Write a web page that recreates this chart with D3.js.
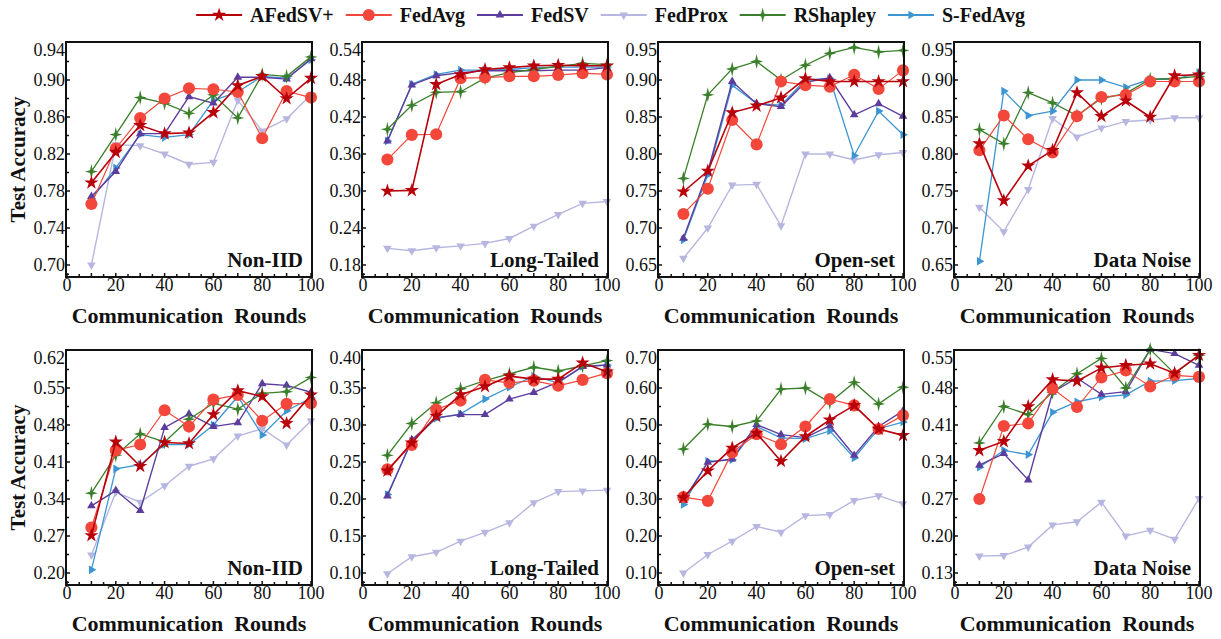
<!DOCTYPE html>
<html>
<head>
<meta charset="utf-8">
<script src="https://cdn.jsdelivr.net/npm/d3@7"></script>
<style>
  body { margin: 0; background: #fff; }
  svg text { font-family: 'Liberation Serif', 'Times New Roman', serif; fill: #111; }
  .tick-label { font-size: 18px; }
  .bold { font-weight: bold; }
</style>
</head>
<body>
<svg id="chart" width="1221" height="639"></svg>
<script>
// ---- data ----
var rounds = [10, 20, 30, 40, 50, 60, 70, 80, 90, 100]
var methods = ['AFedSV+', 'FedAvg', 'FedSV', 'FedProx', 'RShapley', 'S-FedAvg']
var xTicks = [0, 20, 40, 60, 80, 100]
var settings = ['Non-IID', 'Long-Tailed', 'Open-set', 'Data Noise']

// y tick labels, one list per panel
var ticksTop1 = [0.70, 0.74, 0.78, 0.82, 0.86, 0.90, 0.94]
var ticksTop2 = [0.18, 0.24, 0.30, 0.36, 0.42, 0.48, 0.54]
var ticksTop3 = [0.65, 0.70, 0.75, 0.80, 0.85, 0.90, 0.95]
var ticksTop4 = [0.65, 0.70, 0.75, 0.80, 0.85, 0.90, 0.95]
var ticksBot1 = [0.20, 0.27, 0.34, 0.41, 0.48, 0.55, 0.62]
var ticksBot2 = [0.10, 0.15, 0.20, 0.25, 0.30, 0.35, 0.40]
var ticksBot3 = [0.10, 0.20, 0.30, 0.40, 0.50, 0.60, 0.70]
var ticksBot4 = [0.13, 0.20, 0.27, 0.34, 0.41, 0.48, 0.55]

// test accuracy per method, top row
var top1 = {
  'AFedSV+': [0.789, 0.822, 0.851, 0.842, 0.843, 0.865, 0.894, 0.904, 0.880, 0.902],
  'FedAvg': [0.766, 0.826, 0.859, 0.880, 0.891, 0.890, 0.887, 0.837, 0.888, 0.881],
  'FedSV': [0.774, 0.801, 0.842, 0.842, 0.882, 0.875, 0.903, 0.903, 0.901, 0.923],
  'FedProx': [0.700, 0.830, 0.829, 0.820, 0.809, 0.811, 0.878, 0.845, 0.858, 0.884],
  'RShapley': [0.801, 0.841, 0.881, 0.875, 0.864, 0.884, 0.859, 0.906, 0.904, 0.925],
  'S-FedAvg': [0.771, 0.805, 0.841, 0.838, 0.841, 0.878, 0.887, 0.904, 0.902, 0.922]
}
var top2 = {
  'AFedSV+': [0.300, 0.301, 0.473, 0.489, 0.497, 0.500, 0.503, 0.504, 0.503, 0.503],
  'FedAvg': [0.351, 0.391, 0.392, 0.483, 0.484, 0.486, 0.486, 0.488, 0.491, 0.489],
  'FedSV': [0.381, 0.472, 0.487, 0.492, 0.495, 0.495, 0.495, 0.496, 0.496, 0.500],
  'FedProx': [0.207, 0.203, 0.208, 0.211, 0.215, 0.223, 0.243, 0.262, 0.280, 0.283],
  'RShapley': [0.400, 0.439, 0.460, 0.461, 0.483, 0.492, 0.497, 0.502, 0.507, 0.505],
  'S-FedAvg': [0.381, 0.473, 0.489, 0.496, 0.496, 0.497, 0.500, 0.501, 0.501, 0.501]
}
var top3 = {
  'AFedSV+': [0.749, 0.777, 0.856, 0.865, 0.876, 0.902, 0.898, 0.898, 0.898, 0.898],
  'FedAvg': [0.719, 0.753, 0.846, 0.813, 0.898, 0.893, 0.891, 0.907, 0.888, 0.913],
  'FedSV': [0.686, 0.776, 0.898, 0.868, 0.864, 0.897, 0.903, 0.853, 0.868, 0.851],
  'FedProx': [0.659, 0.700, 0.758, 0.759, 0.703, 0.800, 0.800, 0.792, 0.799, 0.802],
  'RShapley': [0.767, 0.880, 0.915, 0.925, 0.900, 0.920, 0.936, 0.944, 0.938, 0.940],
  'S-FedAvg': [0.684, 0.772, 0.893, 0.868, 0.866, 0.900, 0.902, 0.798, 0.858, 0.826]
}
var top4 = {
  'AFedSV+': [0.814, 0.737, 0.784, 0.805, 0.883, 0.851, 0.872, 0.850, 0.906, 0.907],
  'FedAvg': [0.805, 0.852, 0.820, 0.802, 0.851, 0.877, 0.880, 0.898, 0.898, 0.898],
  'FedProx': [0.728, 0.695, 0.752, 0.848, 0.823, 0.835, 0.844, 0.846, 0.849, 0.849],
  'RShapley': [0.833, 0.814, 0.883, 0.869, 0.852, 0.875, 0.882, 0.901, 0.902, 0.905],
  'S-FedAvg': [0.655, 0.885, 0.852, 0.858, 0.900, 0.900, 0.890, 0.901, 0.901, 0.910]
}

// bottom row
var bot1 = {
  'AFedSV+': [0.271, 0.448, 0.402, 0.447, 0.445, 0.500, 0.545, 0.534, 0.483, 0.537],
  'FedAvg': [0.286, 0.432, 0.443, 0.508, 0.477, 0.528, 0.537, 0.488, 0.520, 0.521],
  'FedSV': [0.327, 0.356, 0.318, 0.475, 0.501, 0.477, 0.484, 0.558, 0.555, 0.542],
  'FedProx': [0.234, 0.353, 0.334, 0.365, 0.402, 0.416, 0.459, 0.473, 0.442, 0.488],
  'RShapley': [0.351, 0.423, 0.463, 0.448, 0.491, 0.521, 0.510, 0.540, 0.543, 0.570],
  'S-FedAvg': [0.206, 0.397, 0.405, 0.443, 0.443, 0.480, 0.534, 0.461, 0.507, 0.531]
}
var bot2 = {
  'AFedSV+': [0.238, 0.276, 0.312, 0.341, 0.352, 0.366, 0.362, 0.362, 0.384, 0.372],
  'FedAvg': [0.240, 0.273, 0.321, 0.333, 0.361, 0.357, 0.360, 0.353, 0.361, 0.370],
  'FedSV': [0.204, 0.280, 0.310, 0.314, 0.314, 0.335, 0.344, 0.358, 0.379, 0.381],
  'FedProx': [0.099, 0.122, 0.128, 0.143, 0.155, 0.168, 0.195, 0.210, 0.211, 0.212],
  'RShapley': [0.259, 0.302, 0.330, 0.349, 0.360, 0.369, 0.378, 0.373, 0.380, 0.387],
  'S-FedAvg': [0.206, 0.278, 0.309, 0.315, 0.335, 0.351, 0.366, 0.357, 0.379, 0.381]
}
var bot3 = {
  'AFedSV+': [0.304, 0.376, 0.438, 0.478, 0.402, 0.469, 0.514, 0.553, 0.489, 0.472],
  'FedAvg': [0.305, 0.295, 0.426, 0.475, 0.448, 0.496, 0.570, 0.553, 0.489, 0.526],
  'FedSV': [0.296, 0.399, 0.408, 0.501, 0.474, 0.466, 0.498, 0.418, 0.496, 0.538],
  'FedProx': [0.100, 0.150, 0.186, 0.226, 0.210, 0.255, 0.258, 0.296, 0.309, 0.287],
  'RShapley': [0.435, 0.502, 0.496, 0.511, 0.597, 0.600, 0.561, 0.615, 0.557, 0.602],
  'S-FedAvg': [0.285, 0.402, 0.406, 0.496, 0.465, 0.463, 0.484, 0.411, 0.490, 0.508]
}
var bot4 = {
  'AFedSV+': [0.362, 0.379, 0.445, 0.496, 0.493, 0.518, 0.523, 0.526, 0.508, 0.542],
  'FedAvg': [0.270, 0.408, 0.413, 0.479, 0.444, 0.500, 0.513, 0.483, 0.504, 0.501],
  'FedSV': [0.334, 0.356, 0.306, 0.472, 0.499, 0.468, 0.473, 0.553, 0.545, 0.523],
  'FedProx': [0.162, 0.163, 0.179, 0.221, 0.227, 0.264, 0.200, 0.211, 0.194, 0.271],
  'RShapley': [0.376, 0.445, 0.430, 0.472, 0.507, 0.536, 0.480, 0.553, 0.507, 0.542],
  'S-FedAvg': [0.330, 0.362, 0.354, 0.434, 0.454, 0.463, 0.467, 0.493, 0.494, 0.498]
}

// ---- style ----
var style = {
  'AFedSV+': { color: '#b8000b', width: 1.6 },
  'FedAvg': { color: '#f2473a', width: 1.2 },
  'FedSV': { color: '#5c3d9e', width: 1.4 },
  'FedProx': { color: '#b7b6e0', width: 1.4 },
  'RShapley': { color: '#3a7f29', width: 1.3 },
  'S-FedAvg': { color: '#3d95d2', width: 1.3 }
}
// drawing order (last on top)
var drawOrder = ['FedProx', 'S-FedAvg', 'FedSV', 'RShapley', 'FedAvg', 'AFedSV+']

var sparkle = 'M0,-7.5L1.4,-1.4L6.5,0L1.4,1.4L0,7.5L-1.4,1.4L-6.5,0L-1.4,-1.4Z'
function markerPath (m) {
  if (m === 'AFedSV+') return d3.symbol(d3.symbolStar, 62)()
  if (m === 'FedAvg') return d3.symbol(d3.symbolCircle, 115)()
  if (m === 'RShapley') return sparkle
  return d3.symbol(d3.symbolTriangle, 32)()
}
function markerRotate (m) {
  if (m === 'FedProx') return 180
  if (m === 'S-FedAvg') return 90
  return 0
}

var panels = [
  { row: 0, col: 0, ticks: ticksTop1, data: top1 },
  { row: 0, col: 1, ticks: ticksTop2, data: top2 },
  { row: 0, col: 2, ticks: ticksTop3, data: top3 },
  { row: 0, col: 3, ticks: ticksTop4, data: top4 },
  { row: 1, col: 0, ticks: ticksBot1, data: bot1 },
  { row: 1, col: 1, ticks: ticksBot2, data: bot2 },
  { row: 1, col: 2, ticks: ticksBot3, data: bot3 },
  { row: 1, col: 3, ticks: ticksBot4, data: bot4 }
]

var svg = d3.select('#chart')
var frameW = 246
var frameH = 235
var colLeft = function (c) { return 66 + c * 296 }
var rowTop = function (r) { return 42 + r * 308 }

panels.forEach(function (p) {
  var left = colLeft(p.col)
  var top = rowTop(p.row)
  var right = left + frameW
  var bottom = top + frameH
  var g = svg.append('g')

  var x = d3.scaleLinear().domain([0, 100]).range([left + 1, right - 1])
  var t = p.ticks
  var y = d3.scaleLinear().domain([t[0], t[t.length - 1]]).range([bottom - 12, top + 1])
  var step = t[1] - t[0]

  // inward minor/major ticks
  var xt = d3.range(0, 101, 5)
  g.selectAll(null).data(xt).enter().append('line')
    .attr('x1', function (d) { return x(d) }).attr('x2', function (d) { return x(d) })
    .attr('y1', bottom).attr('y2', function (d) { return bottom - (d % 10 === 0 ? 4 : 3) })
    .attr('stroke', '#111').attr('stroke-width', 1.5)

  var yt = []
  t.forEach(function (v) {
    yt.push({ v: v, major: true })
    yt.push({ v: v + step / 2, major: false })
  })
  yt.push({ v: t[0] - step / 4, major: false })
  g.selectAll(null).data(yt.filter(function (d) { return y(d.v) > top + 2 && y(d.v) < bottom - 2 }))
    .enter().append('line')
    .attr('x1', left).attr('x2', function (d) { return left + (d.major ? 4 : 3) })
    .attr('y1', function (d) { return y(d.v) }).attr('y2', function (d) { return y(d.v) })
    .attr('stroke', '#111').attr('stroke-width', 1.5)

  // tick labels
  g.selectAll(null).data(t).enter().append('text')
    .attr('class', 'tick-label')
    .attr('x', left - 1)
    .attr('y', function (d) { return Math.max(y(d), top + 8) })
    .attr('dy', '0.35em')
    .style('text-anchor', 'end')
    .text(function (d) { return d.toFixed(2) })

  g.selectAll(null).data(xTicks).enter().append('text')
    .attr('class', 'tick-label')
    .attr('x', function (d) { return x(d) })
    .attr('y', bottom + 14)
    .style('text-anchor', 'middle')
    .text(function (d) { return d })

  // series
  var line = d3.line()
    .x(function (d, i) { return x(rounds[i]) })
    .y(function (d) { return y(d) })

  drawOrder.forEach(function (m) {
    var vals = p.data[m]
    if (!vals) return
    var s = style[m]
    g.append('path')
      .attr('d', line(vals))
      .attr('fill', 'none')
      .attr('stroke', s.color)
      .attr('stroke-width', s.width)
    g.selectAll(null).data(vals).enter().append('path')
      .attr('d', markerPath(m))
      .attr('transform', function (d, i) {
        return 'translate(' + x(rounds[i]) + ',' + y(d) + ') rotate(' + markerRotate(m) + ')'
      })
      .attr('fill', s.color)
  })

  // frame
  g.append('rect')
    .attr('x', left).attr('y', top)
    .attr('width', frameW).attr('height', frameH)
    .attr('fill', 'none').attr('stroke', '#111').attr('stroke-width', 2)

  // setting label
  g.append('text')
    .attr('class', 'bold')
    .attr('x', right - 9)
    .attr('y', bottom - 10)
    .style('text-anchor', 'end')
    .style('font-size', '21px')
    .text(settings[p.col])

  // x title
  g.append('text')
    .attr('class', 'bold')
    .attr('x', (left + right) / 2)
    .attr('y', bottom + 46)
    .style('text-anchor', 'middle')
    .style('font-size', '22px')
    .text('Communication\u00a0\u00a0Rounds')

  if (p.col === 0) {
    g.append('text')
      .attr('class', 'bold')
      .attr('transform', 'translate(25,' + ((top + bottom) / 2) + ') rotate(-90)')
      .style('text-anchor', 'middle')
      .style('font-size', '21px')
      .text('Test Accuracy')
  }
})

// legend
var legend = svg.append('g')
var lx = 0
methods.forEach(function (m) {
  var item = legend.append('g').attr('transform', 'translate(' + lx + ',0)')
  item.append('line')
    .attr('x1', 0).attr('x2', 46).attr('y1', 15).attr('y2', 15)
    .attr('stroke', style[m].color).attr('stroke-width', 2)
  item.append('path')
    .attr('d', markerPath(m))
    .attr('transform', 'translate(23,15) rotate(' + markerRotate(m) + ')')
    .attr('fill', style[m].color)
  var txt = item.append('text')
    .attr('class', 'bold')
    .attr('x', 54).attr('y', 22)
    .style('font-size', '20px')
    .text(m)
  lx += 54 + txt.node().getComputedTextLength() + 12
})
legend.attr('transform', 'translate(' + ((1221 - (lx - 12)) / 2) + ',0)')
</script>
</body>
</html>
